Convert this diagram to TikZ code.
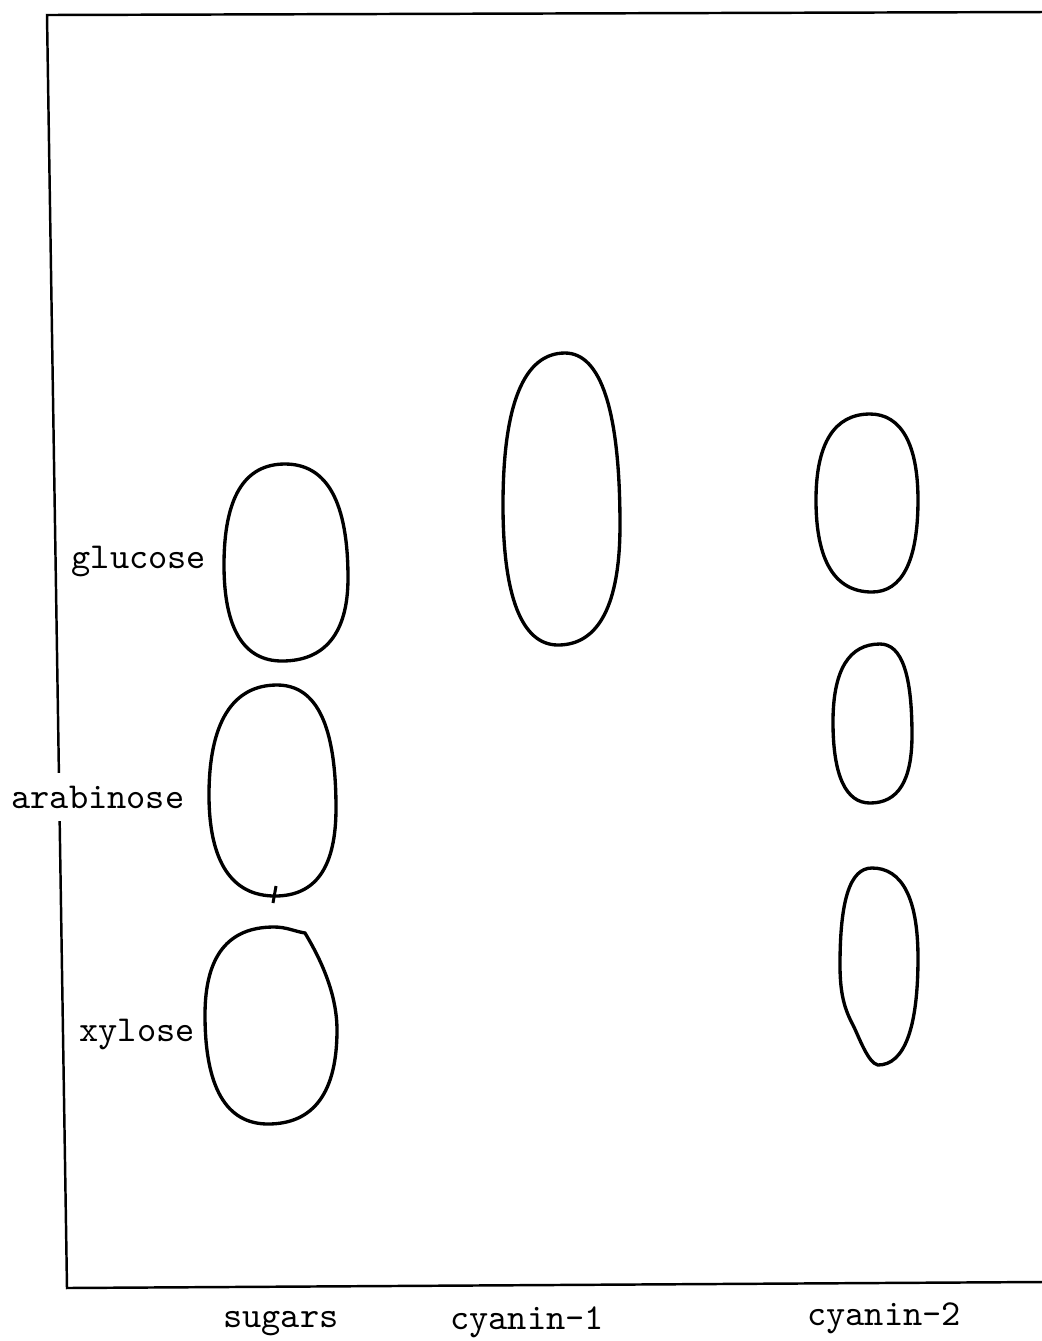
\documentclass[tikz,border=0pt]{standalone}
\usepackage{fontspec}
\usepackage{tikz}
\usetikzlibrary{positioning}

\begin{document}
\begin{tikzpicture}[x=0.01cm, y=-0.01cm,
            lbl/.style={font=\ttfamily\fontsize{10.4}{12}\selectfont, inner sep=0pt},
            spot/.style={line width=0.95pt},
            frame/.style={line width=0.7pt}]
            \useasboundingbox (0,0) rectangle (1042,1341);

            % plate edges
            \coordinate (tl) at (47,15);
            \coordinate (tr) at (1042,12);
            \coordinate (bl) at (67,1288);
            \coordinate (br) at (1042,1282);
            \draw[frame] (tr) -- (tl) -- (bl) -- (br);

            % sugar markers
            \draw[spot] (285,464) .. controls +(42,0) and +(0,-76) .. (348,578)
                .. controls +(0,55) and +(43,0) .. (282,661)
                .. controls +(-38,0) and +(0,64) .. (224,565)
                .. controls +(0,-67) and +(-41,0) .. (285,464) -- cycle;
            \draw[spot] (277,685) .. controls +(40,0) and +(0,-82) .. (336,808)
                .. controls +(0,59) and +(41,0) .. (275,896)
                .. controls +(-43,0) and +(0,67) .. (209,795)
                .. controls +(0,-73) and +(-44,0) .. (277,685) -- cycle;
            \draw[spot] (274,927) to[out=0,in=170] (305,933)
                .. controls +(12,20) and +(0,-40) .. (337,1030)
                .. controls +(0,62) and +(46,0) .. (268,1124)
                .. controls +(-42,0) and +(0,72) .. (205,1015)
                .. controls +(0,-59) and +(-46,0) .. (274,927) -- cycle;
            \draw[line width=0.85pt] (276,886) -- (273,903);

            % cyanin-1
            \draw[spot] (565,353) .. controls +(36,0) and +(0,-114) .. (620,525)
                .. controls +(0,79) and +(41,0) .. (558,645)
                .. controls +(-36,0) and +(0,92) .. (503,505)
                .. controls +(0,-101) and +(-41,0) .. (565,353) -- cycle;

            % cyanin-2
            \draw[spot] (870,414) .. controls +(31,0) and +(0,-56) .. (918,500)
                .. controls +(0,61) and +(30,0) .. (872,592)
                .. controls +(-37,0) and +(0,61) .. (816,500)
                .. controls +(0,-56) and +(-36,0) .. (870,414) -- cycle;
            \draw[spot] (880,644) .. controls +(22,0) and +(0,-60) .. (912,735)
                .. controls +(0,46) and +(28,0) .. (870,803)
                .. controls +(-24,0) and +(0,54) .. (833,722)
                .. controls +(0,-52) and +(-31,0) .. (880,644) -- cycle;
            \draw[spot] (872,868) .. controls +(30,0) and +(0,-60) .. (918,958)
                .. controls +(0,71) and +(26,0) .. (878,1065)
                .. controls +(-10,-2) and +(6,12) .. (853,1025)
                .. controls +(-8,-15) and +(0,30) .. (840,965)
                .. controls +(0,-65) and +(-22,0) .. (872,868) -- cycle;

            % labels
            \node[lbl] (glu) at (139,561) {glucose};
            \node[lbl, fill=white, inner ysep=3.5pt] (ara) at (98,797) {arabinose};
            \node[lbl] (xyl) at (137,1034) {xylose};
            \node[lbl] (sug) at (281,1324) {sugars};
            \node[lbl] (cy1) at (527,1322) {cyanin-1};
            \node[lbl] (cy2) at (884,1318) {cyanin-2};
        \end{tikzpicture}
\end{document}
